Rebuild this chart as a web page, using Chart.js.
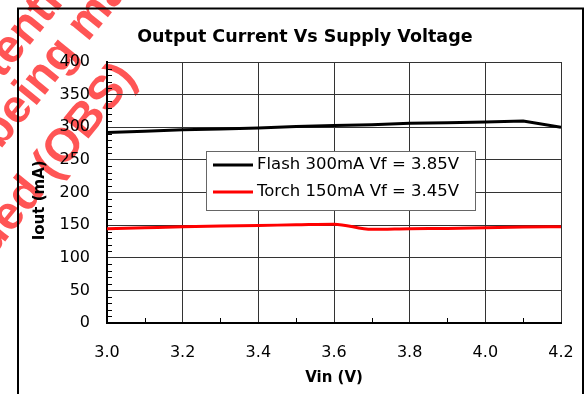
<!DOCTYPE html>
<html>
<head>
<meta charset="utf-8">
<script src="https://cdn.jsdelivr.net/npm/chart.js@4.4.0/dist/chart.umd.min.js"></script>
<style>
  html, body { margin: 0; padding: 0; background: #fff; }
</style>
</head>
<body>
<canvas id="myChart" width="586" height="394"></canvas>
<script>
// data
var vin = [3.0, 3.1, 3.2, 3.3, 3.4, 3.5, 3.6, 3.7, 3.8, 3.9, 4.0, 4.1, 4.2];
var flashCurrent = [292, 294, 296, 297.5, 299, 301, 302.5, 304, 306, 307, 308, 309.5, 300];
var torchCurrent = [144.5, 146, 147.5, 148.5, 149.5, 150.5, 151.5, 143.5, 144.5, 145, 146, 147, 147.5];
var seriesNames = ['Flash 300mA Vf = 3.85V', 'Torch 150mA Vf = 3.45V'];
var seriesColors = ['#000000', '#ff0000'];
var chartTitle = 'Output Current Vs Supply Voltage';
var xTitle = 'Vin (V)';
var yTitle = 'Iout (mA)';

var FONT = 'DejaVu Sans';

function points(ys) {
  return vin.map(function (v, i) { return { x: v, y: ys[i] }; });
}

// red watermark behind the chart
var watermark = {
  id: 'watermark',
  beforeDraw: function (chart) {
    var ctx = chart.ctx;
    var lines = [
      { text: 'Potentially', before: 'Pote', key: 'n', x: 27, y: 28 },
      { text: 'being made', before: 'bei', key: 'n', x: 42, y: 78 },
      { text: 'Discontinued (OBS)', before: 'Discontinued (', key: 'O', x: 65, y: 147 }
    ];
    ctx.save();
    ctx.fillStyle = 'rgb(255,85,85)';
    ctx.font = 'bold 47px "Liberation Sans"';
    ctx.textBaseline = 'middle';
    lines.forEach(function (l) {
      ctx.save();
      ctx.translate(l.x, l.y);
      ctx.rotate(-51 * Math.PI / 180);
      var pre = ctx.measureText(l.before).width + ctx.measureText(l.key).width / 2;
      ctx.fillText(l.text, -pre, 0);
      ctx.restore();
    });
    ctx.restore();
  }
};

// small inside ticks between the grid lines
var minorTicks = {
  id: 'minorTicks',
  afterDatasetsDraw: function (chart) {
    var ctx = chart.ctx, a = chart.chartArea, x = chart.scales.x, y = chart.scales.y;
    ctx.save();
    ctx.strokeStyle = '#000';
    ctx.lineWidth = 1;
    ctx.beginPath();
    for (var v = 10; v < 400; v += 10) {
      if (v % 50 === 0) continue;
      var py = Math.round(y.getPixelForValue(v)) + 0.5;
      ctx.moveTo(a.left, py);
      ctx.lineTo(a.left + 5, py);
    }
    for (var i = 1; i < 12; i += 2) {
      var px = Math.round(x.getPixelForValue(3 + i / 10)) + 0.5;
      ctx.moveTo(px, a.bottom);
      ctx.lineTo(px, a.bottom - 5);
    }
    ctx.stroke();
    ctx.restore();
  }
};

// legend in a white box inside the plot
var boxLegend = {
  id: 'boxLegend',
  afterDatasetsDraw: function (chart) {
    var ctx = chart.ctx, a = chart.chartArea;
    var bx = a.left + 99, by = a.top + 89, bw = 269, bh = 59;
    ctx.save();
    ctx.fillStyle = '#fff';
    ctx.fillRect(bx, by, bw, bh);
    ctx.strokeStyle = '#666';
    ctx.lineWidth = 1;
    ctx.strokeRect(bx + 0.5, by + 0.5, bw, bh);
    ctx.font = '16.5px "' + FONT + '"';
    ctx.textBaseline = 'middle';
    chart.data.datasets.forEach(function (ds, i) {
      var ry = by + 14 + i * 27;
      ctx.strokeStyle = ds.borderColor;
      ctx.lineWidth = 3;
      ctx.beginPath();
      ctx.moveTo(bx + 7, ry);
      ctx.lineTo(bx + 47, ry);
      ctx.stroke();
      ctx.fillStyle = '#000';
      ctx.fillText(ds.label, bx + 51, ry);
    });
    ctx.restore();
  }
};

// outer picture frame
var frame = {
  id: 'frame',
  afterDraw: function (chart) {
    var ctx = chart.ctx;
    ctx.save();
    ctx.strokeStyle = '#000';
    ctx.lineWidth = 2;
    ctx.beginPath();
    ctx.moveTo(18, 394);
    ctx.lineTo(18, 8.5);
    ctx.lineTo(583, 8.5);
    ctx.lineTo(583, 394);
    ctx.stroke();
    ctx.restore();
  }
};

var ctx = document.getElementById('myChart').getContext('2d');
var chart = new Chart(ctx, {
  type: 'line',
  data: {
    datasets: [{
      label: seriesNames[0],
      data: points(flashCurrent),
      borderColor: seriesColors[0],
      backgroundColor: seriesColors[0],
      borderWidth: 3,
      pointRadius: 0,
      tension: 0
    }, {
      label: seriesNames[1],
      data: points(torchCurrent),
      borderColor: seriesColors[1],
      backgroundColor: seriesColors[1],
      borderWidth: 3,
      pointRadius: 0,
      cubicInterpolationMode: 'monotone'
    }]
  },
  options: {
    responsive: false,
    animation: false,
    layout: { padding: { left: 0, right: 25, top: 0, bottom: 0 } },
    plugins: {
      legend: { display: false },
      tooltip: { enabled: false },
      title: {
        display: true,
        text: '        ' + chartTitle,
        color: '#000',
        font: { family: FONT, size: 17.5, weight: 'bold' },
        padding: { top: 27, bottom: 14 }
      }
    },
    scales: {
      x: {
        type: 'linear',
        min: 3.0,
        max: 4.2,
        ticks: {
          stepSize: 0.2,
          padding: 20,
          color: '#000',
          font: { family: FONT, size: 16 },
          callback: function (v) { return Number(v).toFixed(1); }
        },
        grid: { color: '#333', lineWidth: 1, drawTicks: false },
        border: { color: '#000', width: 2 },
        title: {
          display: true,
          text: xTitle,
          color: '#000',
          font: { family: FONT, size: 15, weight: 'bold' },
          padding: { top: 0, bottom: 7 }
        },
        afterFit: function (s) { s.height = 71; s.paddingRight = 0; }
      },
      y: {
        min: 0,
        max: 400,
        ticks: {
          stepSize: 50,
          padding: 17,
          color: '#000',
          font: { family: FONT, size: 16 }
        },
        grid: { color: '#333', lineWidth: 1, drawTicks: false },
        border: { color: '#000', width: 2 },
        title: {
          display: true,
          text: yTitle + '   ',
          color: '#000',
          font: { family: FONT, size: 15, weight: 'bold' },
          padding: { top: 31, bottom: 0 }
        },
        afterFit: function (s) { s.width = 107; }
      }
    }
  },
  plugins: [watermark, minorTicks, boxLegend, frame]
});
</script>
</body>
</html>
